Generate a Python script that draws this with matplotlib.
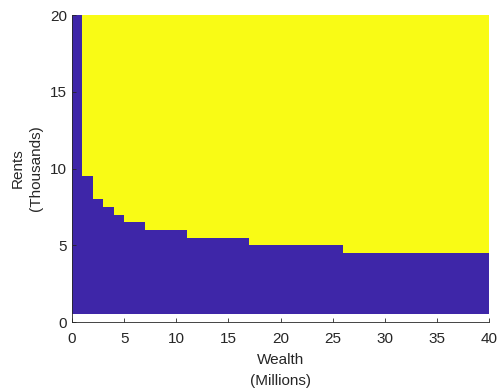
import matplotlib
matplotlib.use("Agg")
import matplotlib.pyplot as plt
from matplotlib.colors import ListedColormap
import numpy as np

# wealth interval edges (millions) and the rent threshold (thousands) in each
wealth_edges = [0, 1, 2, 3, 4, 5, 7, 11, 17, 26, 40]
rent_threshold = [20, 9.5, 8.0, 7.5, 7.0, 6.5, 6.0, 5.5, 5.0, 4.5]
x_ticks = [0, 5, 10, 15, 20, 25, 30, 35, 40]
y_ticks = [0, 5, 10, 15, 20]

blue = "#3E26A8"
yellow = "#F9FB15"

plt.rcParams["font.family"] = ["Liberation Sans", "DejaVu Sans"]

def main():
    xe = np.arange(0, 41, 1.0)
    ye = np.arange(0.5, 20.01, 0.5)
    xc = (xe[:-1] + xe[1:]) / 2
    yc = (ye[:-1] + ye[1:]) / 2
    idx = np.searchsorted(wealth_edges, xc) - 1
    thr = np.array(rent_threshold)[idx]
    Z = (yc[:, None] > thr[None, :]).astype(float)

    fig = plt.figure(figsize=(4.99, 3.88), dpi=100)
    ax = fig.add_axes([0.1443, 0.170, 0.8357, 0.791])
    ax.pcolormesh(xe, ye, Z, cmap=ListedColormap([blue, yellow]), vmin=0, vmax=1)
    ax.set_xlim(0, 40)
    ax.set_ylim(0, 20)
    ax.set_xticks(x_ticks)
    ax.set_yticks(y_ticks)
    ax.tick_params(direction="in", length=3, width=0.6, labelsize=11, colors="#262626")
    ax.tick_params(axis="x", pad=7)
    for s in ["top", "right"]:
        ax.spines[s].set_visible(False)
    for s in ["left", "bottom"]:
        ax.spines[s].set_linewidth(0.6)
        ax.spines[s].set_color("#262626")
    ax.set_xlabel("Wealth\n(Millions)", fontsize=11, color="#262626",
                  labelpad=5, linespacing=1.65)
    ax.set_ylabel("Rents\n(Thousands)", fontsize=11, color="#262626",
                  labelpad=5, linespacing=1.45)
    fig.savefig("out.png", dpi=100)

if __name__ == "__main__":
    main()
